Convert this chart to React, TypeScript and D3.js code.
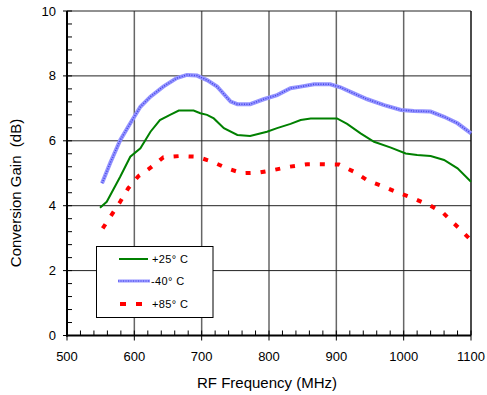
import React from "react";
import * as d3 from "d3";

const freq25 = [549, 559, 579, 594, 609, 624, 638, 653, 666, 688, 698, 708, 718, 733, 753, 772, 797, 812, 832, 847, 862, 901, 916, 936, 956, 981, 1003, 1020, 1040, 1060, 1080, 1100];
const gain25 = [3.94, 4.12, 4.89, 5.51, 5.77, 6.28, 6.64, 6.80, 6.93, 6.93, 6.85, 6.80, 6.69, 6.39, 6.18, 6.15, 6.28, 6.39, 6.52, 6.64, 6.69, 6.69, 6.52, 6.23, 5.97, 5.79, 5.61, 5.56, 5.53, 5.41, 5.15, 4.74];

const freqM40 = [552, 564, 579, 594, 609, 624, 643, 663, 678, 693, 708, 723, 743, 753, 772, 792, 812, 832, 847, 867, 891, 906, 926, 946, 971, 996, 1015, 1040, 1060, 1080, 1100];
const gainM40 = [4.69, 5.31, 6.02, 6.54, 7.05, 7.36, 7.67, 7.93, 8.03, 8.01, 7.87, 7.67, 7.21, 7.13, 7.13, 7.28, 7.41, 7.62, 7.67, 7.74, 7.74, 7.65, 7.46, 7.28, 7.10, 6.95, 6.92, 6.90, 6.74, 6.54, 6.23];

const freq85 = [553, 566, 579, 591, 606, 626, 643, 667, 693, 715, 738, 760, 785, 807, 830, 857, 881, 904, 926, 947, 970, 992, 1014, 1038, 1059, 1076, 1100];
const gain85 = [3.30, 3.71, 4.12, 4.54, 4.91, 5.20, 5.49, 5.53, 5.51, 5.36, 5.15, 5.00, 5.02, 5.10, 5.20, 5.28, 5.28, 5.27, 5.05, 4.77, 4.59, 4.40, 4.23, 4.02, 3.77, 3.43, 2.94];

const xTicks = [500, 600, 700, 800, 900, 1000, 1100];
const yTicks = [0, 2, 4, 6, 8, 10];
const legendLabels = ["+25° C", "-40° C", "+85° C"];

const W = 487, H = 395;
const L = 67, R = 471, T = 11, B = 335.5;

export default function App() {
  const x = d3.scaleLinear().domain([500, 1100]).range([L, R]);
  const y = d3.scaleLinear().domain([0, 10]).range([B, T]);
  const line = d3.line<[number, number]>().x(d => x(d[0])).y(d => y(d[1])).curve(d3.curveLinear);
  const p25 = line(freq25.map((f, i) => [f, gain25[i]]))!;
  const pM40 = line(freqM40.map((f, i) => [f, gainM40[i]]))!;
  const p85 = line(freq85.map((f, i) => [f, gain85[i]]))!;
  const minorX = d3.range(500, 1101, 20);
  const minorY = d3.range(0, 10.01, 0.4);
  const font = "Arial, 'Liberation Sans', sans-serif";

  const legX = 96.5, legY = 246.5, legW = 116.5, legH = 71;
  const rowY = [259, 281, 304];

  return (
    <svg width={W} height={H} style={{ position: "absolute", left: 0, top: 0, background: "#fff" }} fontFamily={font}>
      {/* vertical grid */}
      {xTicks.slice(1, -1).map(t => (
        <line key={"vx" + t} x1={x(t)} x2={x(t)} y1={T} y2={B} stroke="#666" strokeWidth={1.5} />
      ))}
      {/* horizontal grid */}
      {yTicks.slice(1, -1).map(t => (
        <line key={"hy" + t} x1={L} x2={R} y1={y(t)} y2={y(t)} stroke="#222" strokeWidth={1} />
      ))}
      {/* frame */}
      <line x1={L} x2={R} y1={T} y2={T} stroke="#222" strokeWidth={1} />
      <line x1={R} x2={R} y1={T} y2={B} stroke="#111" strokeWidth={1.5} />
      {/* minor ticks */}
      {minorX.map(t => (
        <line key={"mx" + t} x1={x(t)} x2={x(t)} y1={B} y2={B - 5} stroke="#000" strokeWidth={1} />
      ))}
      {xTicks.map(t => (
        <line key={"Mx" + t} x1={x(t)} x2={x(t)} y1={B} y2={B + 5} stroke="#000" strokeWidth={1} />
      ))}
      {minorY.map(t => (
        <line key={"my" + t} x1={L} x2={L + 5} y1={y(t)} y2={y(t)} stroke="#000" strokeWidth={1} />
      ))}
      {yTicks.map(t => (
        <line key={"My" + t} x1={L - 4} x2={L} y1={y(t)} y2={y(t)} stroke="#000" strokeWidth={1} />
      ))}
      {/* axes */}
      <line x1={L} x2={L} y1={T} y2={B + 1} stroke="#000" strokeWidth={2} />
      <line x1={L - 1} x2={R} y1={B} y2={B} stroke="#000" strokeWidth={2} />

      {/* series */}
      <path d={pM40} fill="none" stroke="#9494ff" strokeWidth={4} />
      <path d={pM40} fill="none" stroke="#4545e8" strokeWidth={1.5} strokeDasharray="1 1.5" />
      <path d={p25} fill="none" stroke="#008000" strokeWidth={2} />
      <path d={p85} fill="none" stroke="#ff0000" strokeWidth={4} strokeDasharray="5 10" />

      {/* tick labels */}
      {xTicks.map(t => (
        <text key={"tx" + t} x={x(t)} y={361} fontSize={13} textAnchor="middle" fill="#000">{t}</text>
      ))}
      {yTicks.map(t => (
        <text key={"ty" + t} x={56} y={y(t) + 4.5} fontSize={13} textAnchor="end" fill="#000">{t}</text>
      ))}

      {/* axis titles */}
      <text x={267} y={388} fontSize={15} textAnchor="middle" fill="#000">RF Frequency (MHz)</text>
      <text transform={`translate(21, 193) rotate(-90)`} fontSize={15} textAnchor="middle" fill="#000" style={{ whiteSpace: "pre" }}>{"Conversion Gain  (dB)"}</text>

      {/* legend */}
      <rect x={legX} y={legY} width={legW} height={legH} fill="#fff" stroke="#000" strokeWidth={1} />
      <line x1={119} x2={148} y1={rowY[0]} y2={rowY[0]} stroke="#008000" strokeWidth={2} />
      <line x1={118} x2={150} y1={rowY[1]} y2={rowY[1]} stroke="#9494ff" strokeWidth={3} />
      <line x1={118} x2={150} y1={rowY[1]} y2={rowY[1]} stroke="#4545e8" strokeWidth={1} strokeDasharray="1 1.5" />
      <line x1={120} x2={142} y1={rowY[2]} y2={rowY[2]} stroke="#ff0000" strokeWidth={4} strokeDasharray="6 10" />
      {legendLabels.map((lab, i) => (
        <text key={lab} x={i === 1 ? 151 : 152} y={rowY[i] + 4} fontSize={11} letterSpacing={0.4} fill="#000">{lab}</text>
      ))}
    </svg>
  );
}
